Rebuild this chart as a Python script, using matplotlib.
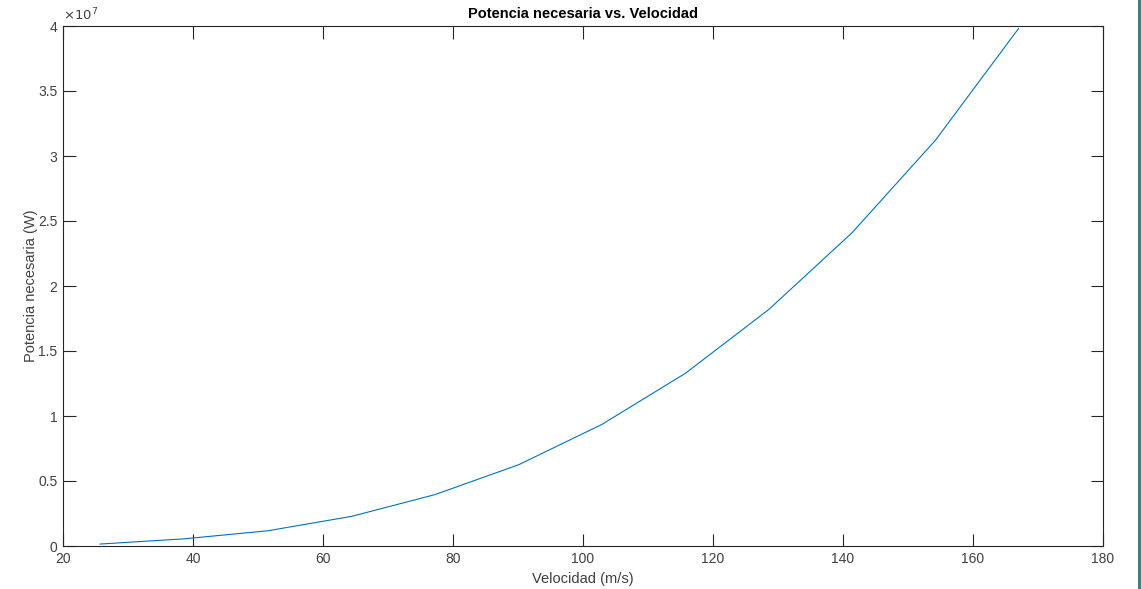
import matplotlib
matplotlib.use("Agg")
import matplotlib.pyplot as plt
from matplotlib.ticker import FuncFormatter
from matplotlib.patches import Rectangle

# Velocity samples (m/s) and required power (W)
velocidad = [25.7, 38.6, 51.5, 64.4, 77.2, 90.1, 102.9, 115.8, 128.6, 141.4, 154.2, 167.0]
potencia = [0.015e7, 0.055e7, 0.117e7, 0.228e7, 0.395e7, 0.625e7, 0.935e7,
            1.33e7, 1.82e7, 2.41e7, 3.12e7, 3.98e7]

x_ticks = [20, 40, 60, 80, 100, 120, 140, 160, 180]
y_ticks = [0, 0.5e7, 1e7, 1.5e7, 2e7, 2.5e7, 3e7, 3.5e7, 4e7]

plt.rcParams['font.family'] = ['Liberation Sans', 'DejaVu Sans']
ink = '#262626'
label_ink = '#404040'

fig = plt.figure(figsize=(11.41, 5.89), dpi=100)
fig.patch.set_facecolor('white')
ax = fig.add_axes([63 / 1141, 43 / 589, 1040 / 1141, 520 / 589])

ax.plot(velocidad, potencia, color='#0072BD', linewidth=0.8)

ax.set_xlim(20, 180)
ax.set_ylim(0, 4e7)
ax.set_xticks(x_ticks)
ax.set_yticks(y_ticks)
ax.yaxis.set_major_formatter(FuncFormatter(lambda v, p: f"{v / 1e7:g}"))

ax.tick_params(direction='in', length=9, width=0.8, colors=ink,
               labelcolor=label_ink, labelsize=10, top=True, right=True, pad=4)
for s in ax.spines.values():
    s.set_color(ink)
    s.set_linewidth(0.8)

ax.set_title('Potencia necesaria vs. Velocidad', fontsize=10.5, fontweight='bold',
             color='black', pad=6)
ax.set_xlabel('Velocidad (m/s)', fontsize=10.5, color=label_ink, labelpad=5)
ax.set_ylabel('Potencia necesaria (W)', fontsize=10.5, color=label_ink)
ax.yaxis.set_label_coords(-0.024, 0.5)

ax.text(0.0, 1.006, r'$\times 10^{7}$', transform=ax.transAxes, fontsize=9.5,
        color=label_ink, ha='left', va='bottom')

# Window edge stripe along the right border
fig.patches.append(Rectangle((1138 / 1141, 0), 3 / 1141, 1, transform=fig.transFigure,
                             facecolor='#3f8088', edgecolor='none'))

fig.savefig('out.png', dpi=100)
